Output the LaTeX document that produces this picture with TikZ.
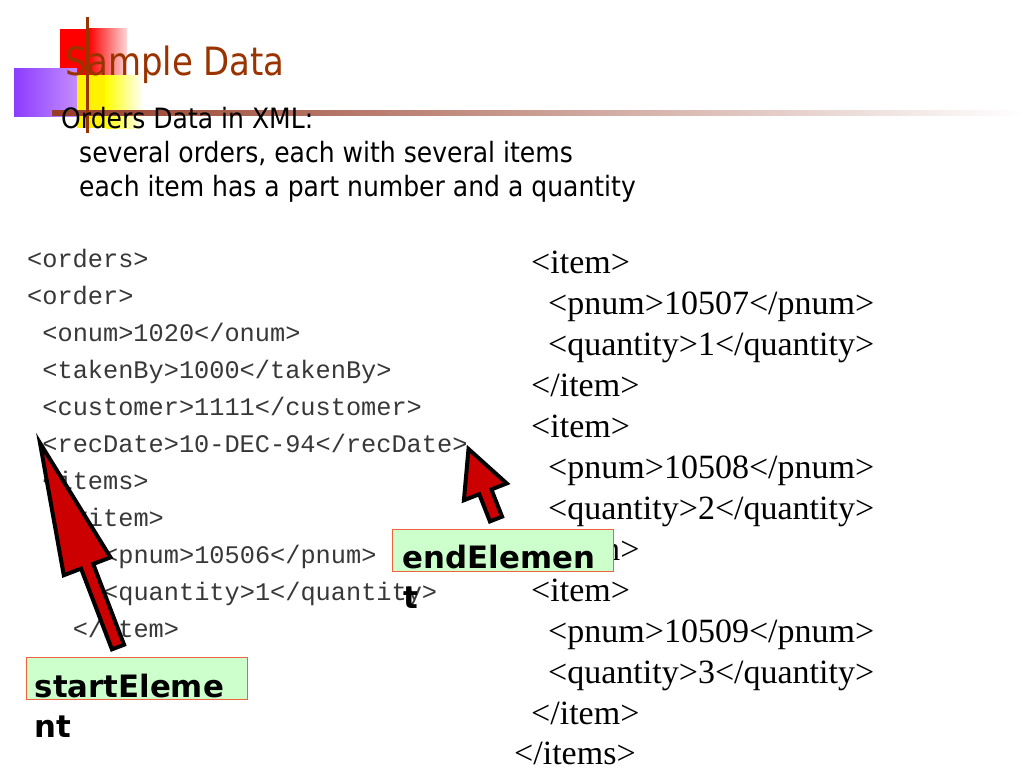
\documentclass[tikz,border=0pt]{standalone}
\usepackage{fontspec}
\usetikzlibrary{calc}
\newfontfamily\tahoma{DejaVu Sans}[FakeStretch=0.87]
\newfontfamily\tahomasub{DejaVu Sans}[FakeStretch=0.895]
\newfontfamily\lblfont{DejaVu Sans}
\newfontfamily\cour{Liberation Mono}
\newfontfamily\tnr{Liberation Serif}
\definecolor{titlebrown}{RGB}{153,51,0}
\definecolor{linebrown}{RGB}{150,60,40}
\definecolor{boxfill}{RGB}{204,255,204}
\definecolor{boxborder}{RGB}{240,100,60}
\definecolor{arrred}{RGB}{204,0,0}
\definecolor{purpleA}{RGB}{140,60,255}
\definecolor{purpleB}{RGB}{195,140,255}
\definecolor{pinkend}{RGB}{255,215,215}
\tikzset{
  titletext/.style={font=\tahoma\fontsize{39}{47}\selectfont, text=titlebrown, anchor=base west, inner sep=0pt},
  subtext/.style={font=\tahomasub\fontsize{28}{34}\selectfont, anchor=base west, inner sep=0pt},
  monotext/.style={font=\cour\fontsize{25.3}{37}\selectfont, text=black!78, anchor=base west, inner sep=0pt},
  serifcode/.style={font=\tnr\fontsize{34}{41}\selectfont, anchor=base west, inner sep=0pt},
  lblbox/.style={draw=boxborder, fill=boxfill, line width=1pt, minimum width=221pt, minimum height=42pt, anchor=north west, inner sep=0pt},
  lbltext/.style={font=\lblfont\bfseries\fontsize{30.8}{40}\selectfont, anchor=base west, inner sep=0pt},
  blockarr/.style={fill=arrred, draw=black, line width=4pt, line join=miter},
}
\newcommand\blockarrow[5]{%
  \coordinate (#1-c) at ($(#2)!#3!(#1)$);
  \draw[blockarr] ($(#1)!#5!90:(#2)$) -- ($(#1-c)!#5!90:(#2)$) -- ($(#1-c)!#4!90:(#2)$) -- (#2)
    -- ($(#1-c)!#4!-90:(#2)$) -- ($(#1-c)!#5!-90:(#2)$) -- ($(#1)!#5!-90:(#2)$) -- cycle;}
\begin{document}
\begin{tikzpicture}[x=1pt,y=-1pt]
\fill[white] (0,0) rectangle (1024,768);
\useasboundingbox (0,0) rectangle (1024,768);
% decoration
\fill[red] (60,29) rectangle (89,90);
\shade[left color=red, right color=pinkend] (88.5,29) rectangle (127,90);
\shade[left color=purpleA, right color=purpleB] (14,68) rectangle (77,116);
\fill[yellow] (77,75) rectangle (106,128);
\shade[left color=yellow, right color=white] (105.5,75) rectangle (143,128);
\shade[left color=linebrown, right color=white] (52,110.5) rectangle (1024,115.5);
\draw[titlebrown, line width=3pt] (87.5,17) -- (87.5,133);
% title
\node[titletext] (title) at (65.5,75) {Sample Data};
\node[subtext] (sub1) at (61,128) {Orders Data in XML:};
\node[subtext] (sub2) at (79,162) {several orders, each with several items};
\node[subtext] (sub3) at (79,196) {each item has a part number and a quantity};
% left code
\node[monotext] (l1) at (27,267) {<orders>};
\node[monotext] (l2) at (27,304) {<order>};
\node[monotext] (l3) at (42.2,341) {<onum>1020</onum>};
\node[monotext] (l4) at (42.2,378) {<takenBy>1000</takenBy>};
\node[monotext] (l5) at (42.2,415) {<customer>1111</customer>};
\node[monotext] (l6) at (42.2,452) {<recDate>10-DEC-94</recDate>};
\node[monotext] (l7) at (42.2,489) {<items>};
\node[monotext] (l8) at (72.6,526) {<item>};
\node[monotext] (l9) at (103,563) {<pnum>10506</pnum>};
\node[monotext] (l10) at (103,600) {<quantity>1</quantity>};
\node[monotext] (l11) at (72.6,637) {</item>};
% right code
\node[serifcode] (r1) at (531,273) {<item>};
\node[serifcode] (r2) at (548,314) {<pnum>10507</pnum>};
\node[serifcode] (r3) at (548,355) {<quantity>1</quantity>};
\node[serifcode] (r4) at (531,396) {</item>};
\node[serifcode] (r5) at (531,437) {<item>};
\node[serifcode] (r6) at (548,478) {<pnum>10508</pnum>};
\node[serifcode] (r7) at (548,519) {<quantity>2</quantity>};
\node[serifcode] (r8) at (531,560) {</item>};
\node[serifcode] (r9) at (531,601) {<item>};
\node[serifcode] (r10) at (548,642) {<pnum>10509</pnum>};
\node[serifcode] (r11) at (548,683) {<quantity>3</quantity>};
\node[serifcode] (r12) at (531,724) {</item>};
\node[serifcode] (r13) at (514,764.5) {</items>};
% label boxes
\node[lblbox] (sbox) at (26,657) {};
\node[lbltext] (st1) at (34.5,697) {startEleme};
\node[lbltext] (st2) at (34.5,737) {nt};
\node[lblbox] (ebox) at (392,529) {};
\node[lbltext] (et1) at (402.5,568) {endElemen};
\node[lbltext] (et2) at (403,608) {t};
% arrows
\coordinate (stip) at (40,443);
\coordinate (stail) at (118,647);
\coordinate (etip) at (468.5,449);
\coordinate (etail) at (496,519);
\blockarrow{stail}{stip}{132pt}{25pt}{6.5pt}
\blockarrow{etail}{etip}{46pt}{23pt}{6.5pt}
\end{tikzpicture}
\end{document}
